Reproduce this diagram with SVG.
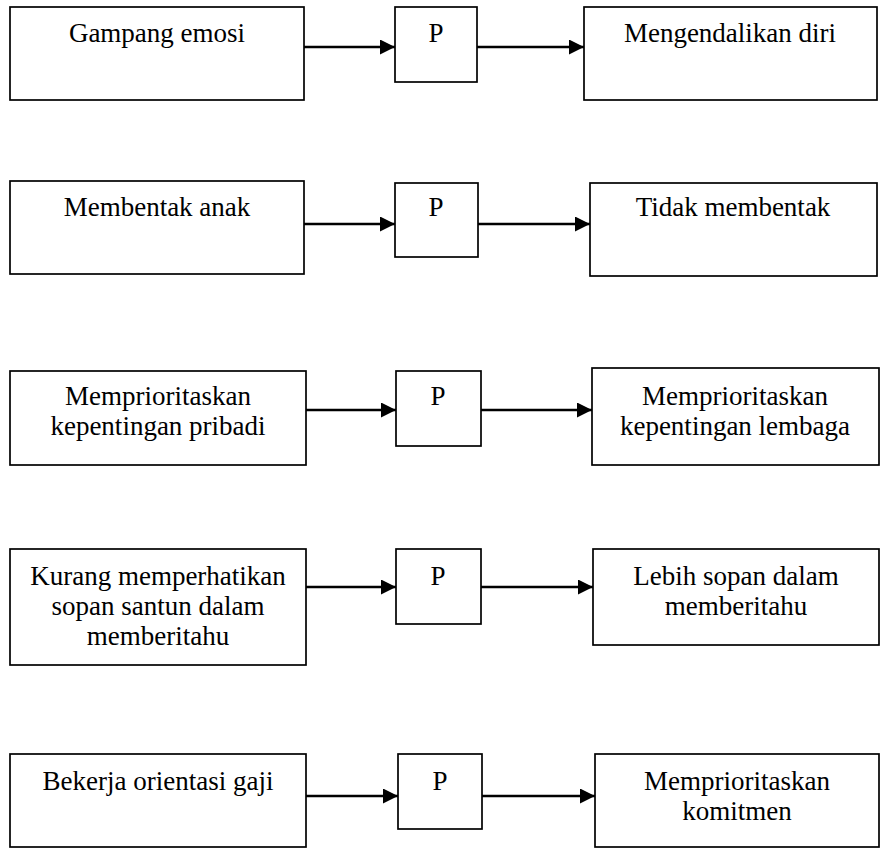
<svg xmlns="http://www.w3.org/2000/svg" width="886" height="848" viewBox="0 0 886 848">
<style>
.box{fill:#fff;stroke:#000;stroke-width:1.7}
.t{font-family:'Liberation Serif','Times New Roman',serif;font-size:27px;fill:#000;text-anchor:middle}
.c{stroke:#000;stroke-width:2.6;fill:none;marker-end:url(#ah)}
</style>
<defs>
<marker id="ah" markerUnits="userSpaceOnUse" markerWidth="16" markerHeight="16" refX="15" refY="7.5" orient="auto">
<path d="M0,0 L15,7.5 L0,15 Z" fill="#000"/>
</marker>
</defs>
<rect width="886" height="848" fill="#fff"/>
<g id="connectors">
<line class="c" x1="304" y1="47" x2="395" y2="47"/>
<line class="c" x1="477" y1="47" x2="584" y2="47"/>
<line class="c" x1="304" y1="224" x2="395" y2="224"/>
<line class="c" x1="478" y1="224" x2="590" y2="224"/>
<line class="c" x1="306" y1="410" x2="396" y2="410"/>
<line class="c" x1="481" y1="410" x2="592" y2="410"/>
<line class="c" x1="306" y1="587" x2="396" y2="587"/>
<line class="c" x1="481" y1="587" x2="593" y2="587"/>
<line class="c" x1="306" y1="796" x2="398" y2="796"/>
<line class="c" x1="482" y1="796" x2="595" y2="796"/>
</g>
<g id="n1a"><rect class="box" x="10" y="7" width="294" height="93"/><text class="t" x="157" y="42">Gampang emosi</text></g>
<g id="n1p"><rect class="box" x="395" y="7" width="82" height="75"/><text class="t" x="436" y="42">P</text></g>
<g id="n1b"><rect class="box" x="584" y="7" width="293" height="93"/><text class="t" x="730" y="42">Mengendalikan diri</text></g>

<g id="n2a"><rect class="box" x="10" y="181" width="294" height="93"/><text class="t" x="157" y="216">Membentak anak</text></g>
<g id="n2p"><rect class="box" x="395" y="183" width="83" height="74"/><text class="t" x="436" y="216">P</text></g>
<g id="n2b"><rect class="box" x="590" y="183" width="287" height="93"/><text class="t" x="733" y="216">Tidak membentak</text></g>

<g id="n3a"><rect class="box" x="10" y="371" width="296" height="94"/><text class="t" x="158" y="405">Memprioritaskan</text><text class="t" x="158" y="435">kepentingan pribadi</text></g>
<g id="n3p"><rect class="box" x="396" y="371" width="85" height="75"/><text class="t" x="438" y="405">P</text></g>
<g id="n3b"><rect class="box" x="592" y="368" width="287" height="97"/><text class="t" x="735" y="405">Memprioritaskan</text><text class="t" x="735" y="435">kepentingan lembaga</text></g>

<g id="n4a"><rect class="box" x="10" y="549" width="296" height="116"/><text class="t" x="158" y="585">Kurang memperhatikan</text><text class="t" x="158" y="615">sopan santun dalam</text><text class="t" x="158" y="645">memberitahu</text></g>
<g id="n4p"><rect class="box" x="396" y="549" width="85" height="75"/><text class="t" x="438" y="585">P</text></g>
<g id="n4b"><rect class="box" x="593" y="549" width="286" height="96"/><text class="t" x="736" y="585">Lebih sopan dalam</text><text class="t" x="736" y="615">memberitahu</text></g>

<g id="n5a"><rect class="box" x="10" y="754" width="296" height="93"/><text class="t" x="158" y="790">Bekerja orientasi gaji</text></g>
<g id="n5p"><rect class="box" x="398" y="754" width="84" height="75"/><text class="t" x="440" y="790">P</text></g>
<g id="n5b"><rect class="box" x="595" y="754" width="284" height="93"/><text class="t" x="737" y="790">Memprioritaskan</text><text class="t" x="737" y="820">komitmen</text></g>
</svg>
